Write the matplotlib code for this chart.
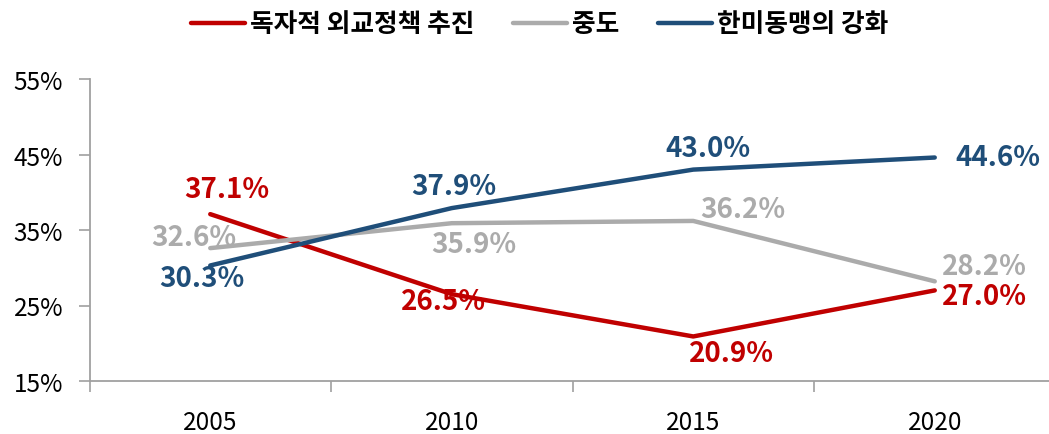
import matplotlib as mpl
mpl.use("Agg")
import matplotlib.pyplot as plt

plt.rcParams['font.family'] = ['Noto Sans CJK KR', 'DejaVu Sans']

years = ["2005", "2010", "2015", "2020"]
indep = [37.1, 26.5, 20.9, 27.0]
middle = [32.6, 35.9, 36.2, 28.2]
alliance = [30.3, 37.9, 43.0, 44.6]
names = ["독자적 외교정책 추진", "중도", "한미동맹의 강화"]
colors = ["#C00000", "#ABABAB", "#1F4E79"]

# label offsets in pixels (dx, dy) per point
offs = [
    [(17, 25), (-8, -7), (38, -17), (50, -6)],
    [(-16, 11), (22, -21), (50, 12), (50, 15)],
    [(-8, -13), (2, 22), (15, 22), (63, 1)],
]

fig = plt.figure(figsize=(10.49, 4.35), dpi=100)
ax = fig.add_axes([89.5 / 1049, 53 / 435, 966 / 1049, 302 / 435])

x = range(len(years))
for i, vals in enumerate([indep, middle, alliance]):
    ax.plot(x, vals, color=colors[i], lw=3.2, label=names[i], solid_capstyle='round')
    for j, v in enumerate(vals):
        ax.annotate("%.1f%%" % v, (j, v), xytext=offs[i][j], textcoords='offset pixels',
                    ha='center', va='center', fontsize=20, fontweight='bold', color=colors[i])

ax.set_xlim(-0.5, 3.5)
ax.set_ylim(15, 55)
ax.set_yticks([15, 25, 35, 45, 55])
ax.set_yticklabels(["%d%%" % t for t in [15, 25, 35, 45, 55]], fontsize=17.5)
ax.set_xticks([-0.5, 0.5, 1.5, 2.5])
ax.set_xticklabels([])
ax.set_xticks(list(x), minor=True)
ax.set_xticklabels(years, minor=True, fontsize=17.5)
ax.tick_params(axis='x', which='minor', length=0, pad=20)
ax.tick_params(axis='x', which='major', length=8, color='#A0A0A0', width=1.2)
ax.tick_params(axis='y', length=8, color='#A0A0A0', width=1.2, pad=11)
for s in ['top', 'right']:
    ax.spines[s].set_visible(False)
for s in ['left', 'bottom']:
    ax.spines[s].set_color('#A0A0A0')
    ax.spines[s].set_linewidth(1.3)

leg = fig.legend(loc='center', bbox_to_anchor=(540 / 1049, 1 - 25 / 435), ncol=3, frameon=False,
                 prop={'size': 18.5, 'weight': 'bold'}, handlelength=2.1, handletextpad=0.2,
                 columnspacing=1.5)

fig.savefig("out.png", dpi=100)
